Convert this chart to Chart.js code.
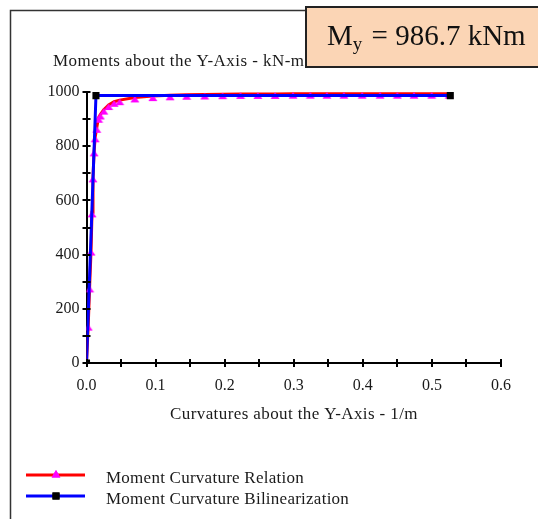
<!DOCTYPE html>
<html>
<head>
<meta charset="utf-8">
<script src="https://cdn.jsdelivr.net/npm/chart.js@4"></script>
<style>
html,body{margin:0;padding:0;background:#fff;}
canvas{display:block;}
</style>
</head>
<body>
<canvas id="c" width="538" height="519"></canvas>
<script>
// Moment curvature relation
const curvRelation = [0, 0.0025, 0.0045, 0.0066, 0.0080, 0.0094, 0.0110, 0.0126, 0.0148, 0.0174, 0.0200, 0.0250, 0.0320, 0.0400, 0.0480, 0.0700, 0.0960, 0.1210, 0.1450, 0.1710, 0.1970, 0.2230, 0.2480, 0.2730, 0.2990, 0.3240, 0.3480, 0.3725, 0.3990, 0.4250, 0.4500, 0.4740, 0.4996, 0.5250];
const momRelation  = [0, 138, 279, 415, 556, 685, 781, 833, 868, 905, 917, 935, 952, 964, 970, 980, 985, 988, 990, 991, 992, 993, 993, 993, 994, 994, 994, 994, 994, 994, 994, 994, 994, 994];
// Bilinearization
const curvBilinear = [0, 0.0137, 0.5266];
const momBilinear  = [0, 986.7, 986.7];
// Axis settings
const xTickValues = [0, 0.1, 0.2, 0.3, 0.4, 0.5, 0.6];
const yTickValues = [0, 200, 400, 600, 800, 1000];
const seriesNames = ['Moment Curvature Relation', 'Moment Curvature Bilinearization'];
const xTitle = 'Curvatures about the Y-Axis - 1/m';
const yTitle = 'Moments about the Y-Axis - kN-m';
const yieldMoment = 986.7;

const SERIF = '"Liberation Serif", "Times New Roman", serif';
const TXT = '#1a1a1a';

const relData = curvRelation.map((x, i) => ({x, y: momRelation[i]}));
const bilData = curvBilinear.map((x, i) => ({x, y: momBilinear[i]}));

// triangle marker whose apex sits just above the data point (drawn below it)
const triMarker = document.createElement('canvas');
triMarker.width = 10; triMarker.height = 14;
(function () {
  const c = triMarker.getContext('2d');
  c.fillStyle = '#FF00FF';
  c.beginPath();
  c.moveTo(5, 5.5);
  c.lineTo(9.5, 12);
  c.lineTo(0.5, 12);
  c.closePath();
  c.fill();
})();

const decor = {
  id: 'decor',
  beforeDraw(chart) {
    const ctx = chart.ctx;
    ctx.save();
    ctx.fillStyle = '#fff';
    ctx.fillRect(0, 0, chart.width, chart.height);
    // outer frame
    ctx.strokeStyle = '#333';
    ctx.lineWidth = 1.5;
    ctx.beginPath();
    ctx.moveTo(10.5, 519);
    ctx.lineTo(10.5, 10.5);
    ctx.lineTo(310, 10.5);
    ctx.stroke();
    // axis title (y) at top-left
    ctx.fillStyle = TXT;
    ctx.font = '17px ' + SERIF;
    ctx.textAlign = 'left';
    ctx.textBaseline = 'alphabetic';
    ctx.letterSpacing = '0.45px';
    ctx.fillText(yTitle, 53, 66);
    // x title
    ctx.textAlign = 'center';
    ctx.letterSpacing = '0.4px';
    ctx.fillText(xTitle, 294, 419);
    ctx.letterSpacing = '0px';
    ctx.restore();
  },
  afterDraw(chart) {
    const ctx = chart.ctx;
    const xs = chart.scales.x, ys = chart.scales.y;
    const x0 = xs.getPixelForValue(0), y0 = ys.getPixelForValue(0);
    ctx.save();
    ctx.strokeStyle = '#000';
    ctx.lineWidth = 2;
    ctx.beginPath();
    xs.ticks.forEach(t => {
      const p = Math.round(xs.getPixelForValue(t.value));
      ctx.moveTo(p, y0 - 4); ctx.lineTo(p, y0 + 4);
    });
    ys.ticks.forEach(t => {
      const p = Math.round(ys.getPixelForValue(t.value));
      ctx.moveTo(x0 - 4, p); ctx.lineTo(x0 + 4, p);
    });
    ctx.stroke();

    // yield moment box
    ctx.fillStyle = '#FBD5B5';
    ctx.fillRect(306, 7, 240, 60);
    ctx.strokeStyle = '#222';
    ctx.lineWidth = 2;
    ctx.strokeRect(306, 7, 240, 60);
    ctx.fillStyle = '#111';
    ctx.textAlign = 'left';
    ctx.textBaseline = 'alphabetic';
    ctx.font = '29px ' + SERIF;
    let tx = 327;
    ctx.fillText('M', tx, 45);
    tx += ctx.measureText('M').width;
    ctx.font = '19px ' + SERIF;
    ctx.fillText('y', tx, 50);
    tx += ctx.measureText('y').width + 2;
    ctx.font = '29px ' + SERIF;
    ctx.fillText(' = ' + yieldMoment.toFixed(1) + ' kNm', tx, 45);

    // legend
    const items = [
      {y: 475, color: '#FF0000', style: 'triangle', mcolor: '#FF00FF', r: 5},
      {y: 496, color: '#0000FF', style: 'rect', mcolor: '#000', r: 5}
    ];
    items.forEach((it, i) => {
      ctx.strokeStyle = it.color;
      ctx.lineWidth = 3;
      ctx.beginPath();
      ctx.moveTo(26, it.y); ctx.lineTo(85, it.y);
      ctx.stroke();
      ctx.fillStyle = it.mcolor;
      Chart.helpers.drawPoint(ctx, {pointStyle: it.style, radius: it.r, borderWidth: 0, rotation: 0}, 56, it.y);
      ctx.fill();
      ctx.fillStyle = TXT;
      ctx.font = '17px ' + SERIF;
      ctx.letterSpacing = '0.25px';
      ctx.fillText(seriesNames[i], 106, it.y + 8);
      ctx.letterSpacing = '0px';
    });
    ctx.restore();
  }
};

new Chart(document.getElementById('c'), {
  type: 'scatter',
  data: {
    datasets: [
      {
        label: seriesNames[1],
        data: bilData,
        showLine: true,
        borderColor: '#0000FF',
        borderWidth: 3,
        pointStyle: 'rect',
        pointRadius: 5,
        pointBackgroundColor: '#000',
        pointBorderWidth: 0,
        order: 0
      },
      {
        label: seriesNames[0],
        data: relData,
        showLine: true,
        borderColor: '#FF0000',
        borderWidth: 3,
        pointStyle: triMarker,
        pointRadius: 5,
        pointBorderWidth: 0,
        order: 1
      }
    ]
  },
  options: {
    responsive: false,
    animation: false,
    devicePixelRatio: 1,
    layout: {padding: {left: 40, right: 37, top: 92, bottom: 126}},
    plugins: {legend: {display: false}, tooltip: {enabled: false}},
    scales: {
      x: {
        type: 'linear',
        min: 0, max: 0.6,
        afterFit(s) { s.height = 30; },
        grid: {display: false, drawTicks: false},
        border: {display: true, color: '#000', width: 2},
        ticks: {
          stepSize: 0.05,
          padding: 13,
          autoSkip: false,
          maxRotation: 0,
          color: TXT,
          font: {family: SERIF, size: 16},
          callback(v) {
            const k = Math.round(v * 100);
            return k % 10 === 0 && xTickValues.includes(k / 100) ? (k / 100).toFixed(1) : '';
          }
        }
      },
      y: {
        type: 'linear',
        min: 0, max: 1000,
        afterFit(s) { s.width = 46.5; },
        grid: {display: false, drawTicks: false},
        border: {display: true, color: '#000', width: 2},
        ticks: {
          stepSize: 100,
          padding: 7,
          autoSkip: false,
          color: TXT,
          font: {family: SERIF, size: 16},
          callback(v) { return yTickValues.includes(v) ? String(v) : ''; }
        }
      }
    }
  },
  plugins: [decor]
});
</script>
</body>
</html>
